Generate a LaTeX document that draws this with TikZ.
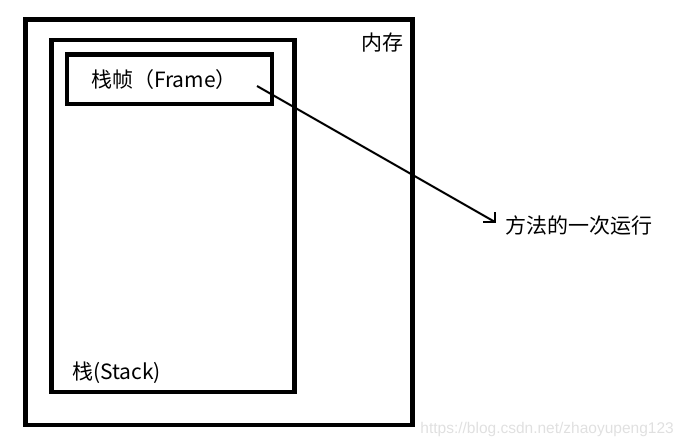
\documentclass[tikz,border=0pt]{standalone}
\usepackage{fontspec}
\setmainfont{Noto Sans CJK SC}
\newfontfamily\markfont{Liberation Sans}
\usepackage{tikz}

\begin{document}
\begin{tikzpicture}[x=1pt,y=-1pt]
\tikzstyle{every node}+=[inner sep=0pt]
\tikzstyle{box}=[draw=black,line width=4.5pt,rectangle]
\tikzstyle{label}=[font=\fontsize{21}{25}\selectfont]
\useasboundingbox (0,0) rectangle (682,447);
\node [box,minimum width=387pt,minimum height=405.5pt] (memory) at (219,222.25) {};
\node [box,minimum width=243pt,minimum height=352pt] (stack) at (173,216) {};
\node [box,minimum width=205pt,minimum height=49.5pt] (frame) at (169.5,79.25) {};
\node [label] (memlabel) at (382,43) {内存};
\node [label] (framelabel) at (164,80) {栈帧（Frame）};
\node [label,anchor=west] (stacklabel) at (72,373) {栈(Stack)};
\node [label,anchor=west] (run) at (505,225) {方法的一次运行};
\node [anchor=east,text=black!12,font=\markfont\fontsize{15.5}{17}\selectfont] (mark) at (674,429) {https://blog.csdn.net/zhaoyupeng123};
\coordinate (from) at (257,86);
\coordinate (tip) at (495,222);
\draw [black,line width=2pt] (from) -- (tip);
\draw [black,line width=2pt] (tip) ++(0,-10) -- (tip) -- ++(-12,0);
\end{tikzpicture}
\end{document}
